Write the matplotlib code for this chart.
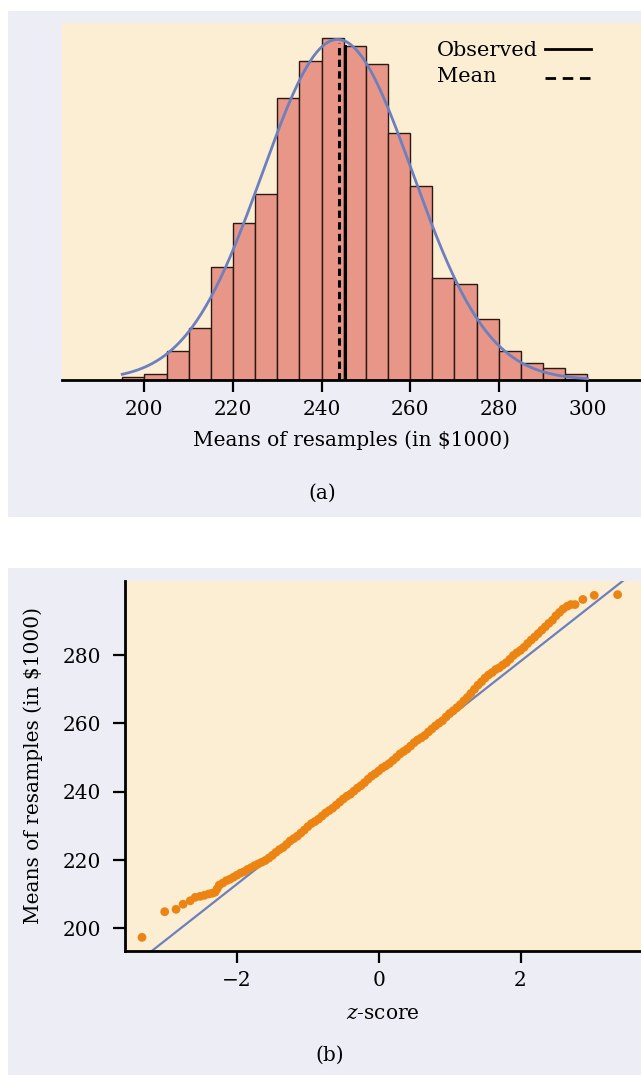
import numpy as np
import matplotlib
matplotlib.use("Agg")
import matplotlib.pyplot as plt
from matplotlib.patches import Rectangle

plt.rcParams['font.family'] = 'DejaVu Serif'
plt.rcParams['mathtext.fontset'] = 'dejavuserif'

# Histogram of resample means (bin left edges, width 5)
bin_left = [195, 200, 205, 210, 215, 220, 225, 230, 235, 240, 245,
            250, 255, 260, 265, 270, 275, 280, 285, 290, 295]
bin_counts = [1, 2, 10, 18, 39, 54, 64, 97, 110, 118, 115,
              109, 85, 67, 35, 33, 21, 10, 6, 4, 2]
bin_width = 5
n_resamples = 1000

# Normal curve fitted to the bootstrap distribution
curve_mean = 243.6
curve_sd = 17.0
observed_value = 245.2
boot_mean = 243.9

# Normal quantile plot: z-scores and sorted resample means
qq_z = [-3.34, -3.02, -2.86, -2.76, -2.66, -2.59, -2.52, -2.46, -2.40, -2.35, -2.31, -2.28,
        -2.25, -2.20, -2.15, -2.10, -2.05, -2.00, -1.95, -1.90, -1.85, -1.80,
        -1.75, -1.70, -1.65, -1.60, -1.55, -1.50, -1.45, -1.40, -1.35, -1.30,
        -1.25, -1.20, -1.15, -1.10, -1.05, -1.00, -0.95, -0.90, -0.85, -0.80,
        -0.75, -0.70, -0.65, -0.60, -0.55, -0.50, -0.45, -0.40, -0.35, -0.30,
        -0.25, -0.20, -0.15, -0.10, -0.05, 0.00, 0.05, 0.10, 0.15, 0.20,
        0.25, 0.30, 0.35, 0.40, 0.45, 0.50, 0.55, 0.60, 0.65, 0.70,
        0.75, 0.80, 0.85, 0.90, 0.95, 1.00, 1.05, 1.10, 1.15, 1.20,
        1.25, 1.30, 1.35, 1.40, 1.45, 1.50, 1.55, 1.60, 1.65, 1.70,
        1.75, 1.80, 1.85, 1.90, 1.95, 2.00, 2.05, 2.10, 2.15, 2.20,
        2.25, 2.30, 2.35, 2.40, 2.45, 2.50, 2.55, 2.60,
        2.66, 2.71, 2.77, 2.88, 3.04, 3.37]
qq_means = [197.4, 204.9, 205.6, 207.1, 208.1, 209.1, 209.4, 209.7, 210.1, 210.3, 210.6, 211.6,
            212.7, 213.3, 214.0, 214.4, 215.0, 215.6, 216.2, 216.6, 217.3, 217.8,
            218.4, 218.9, 219.4, 219.9, 220.6, 221.4, 222.3, 223.1, 223.7, 224.6,
            225.6, 226.3, 227.0, 227.9, 228.8, 229.8, 230.7, 231.3, 232.0, 232.9,
            233.8, 234.5, 235.2, 236.1, 237.0, 237.9, 238.7, 239.3, 240.2, 241.1,
            241.8, 242.7, 243.7, 244.6, 245.3, 246.1, 247.0, 247.6, 248.3, 249.2,
            250.1, 251.1, 251.8, 252.5, 253.4, 254.4, 255.2, 255.8, 256.5, 257.5,
            258.4, 259.3, 260.1, 260.8, 261.9, 262.9, 263.7, 264.6, 265.5, 266.6,
            267.6, 268.8, 270.0, 271.2, 272.2, 273.3, 274.2, 274.9, 275.8, 276.3,
            277.1, 277.8, 278.8, 279.9, 280.7, 281.4, 282.3, 283.4, 284.4, 285.3,
            286.3, 287.3, 288.3, 289.3, 290.2, 291.5, 292.5, 293.5,
            294.3, 294.8, 294.8, 296.3, 297.5, 297.7]
# reference line
line_intercept = 245.6
line_slope = 16.3

lavender = '#EDEDF6'
cream = '#FCEED2'
salmon = '#E89687'
curve_blue = '#6C80C0'
orange = '#EC8413'

W, H = 641, 1075
fig = plt.figure(figsize=(W / 100, H / 100), dpi=100)
fig.patches.append(Rectangle((8 / W, 1 - 517 / H), 633 / W, 506 / H, transform=fig.transFigure,
                             facecolor=lavender, edgecolor='none', zorder=-5))
fig.patches.append(Rectangle((8 / W, 0), 633 / W, 507 / H, transform=fig.transFigure,
                             facecolor=lavender, edgecolor='none', zorder=-5))

# ---- (a) histogram
ax1 = fig.add_axes([62 / W, 1 - 380 / H, 579 / W, 357 / H])
ax1.set_facecolor(cream)
ax1.bar(bin_left, bin_counts, width=bin_width, align='edge', color=salmon,
        edgecolor='#2a1a16', linewidth=1.0, zorder=2)
xs = np.linspace(195, 300, 300)
dens = np.exp(-0.5 * ((xs - curve_mean) / curve_sd) ** 2) / (curve_sd * np.sqrt(2 * np.pi))
ax1.plot(xs, dens * n_resamples * bin_width, color=curve_blue, lw=2.0, zorder=4)
ax1.plot([boot_mean, boot_mean], [0, 116], color='black', lw=2.2, ls=(0, (2.4, 1.4)), zorder=3)
ax1.plot([observed_value, observed_value], [0, 115], color='black', lw=2.2, zorder=3)
ax1.set_xlim(181.4, 312.1)
ax1.set_ylim(0, 123)
ax1.set_yticks([])
for s in ['left', 'right', 'top']:
    ax1.spines[s].set_visible(False)
ax1.spines['bottom'].set_linewidth(2.0)
ax1.set_xticks([200, 220, 240, 260, 280, 300])
ax1.tick_params(axis='x', length=8.5, width=1.6, pad=6, labelsize=14.5)
ax1.set_xlabel('Means of resamples (in $1000)', fontsize=14.5, labelpad=8)

# legend drawn by hand: label first, line after
ax1.text(0.648, 0.924, 'Observed', transform=ax1.transAxes, fontsize=15, va='center', ha='left')
ax1.text(0.648, 0.849, 'Mean', transform=ax1.transAxes, fontsize=15, va='center', ha='left')
ax1.plot([0.834, 0.914], [0.927, 0.927], transform=ax1.transAxes, color='black', lw=2.0)
ax1.plot([0.834, 0.914], [0.846, 0.846], transform=ax1.transAxes, color='black', lw=2.0,
         ls=(0, (3.8, 2.4)))

fig.text(322 / W, 1 - 493 / H, '(a)', fontsize=14.5, ha='center', va='center')

# ---- (b) normal quantile plot
ax2 = fig.add_axes([125 / W, 1 - 951 / H, 516 / W, 370 / H])
ax2.set_facecolor(cream)
zl = np.array([-3.6, 3.7])
ax2.plot(zl, line_intercept + line_slope * zl, color=curve_blue, lw=1.6, zorder=2)
ax2.scatter(qq_z, qq_means, s=40, color=orange, edgecolors='none', zorder=3)
ax2.set_xlim(-3.58, 3.70)
ax2.set_ylim(193.4, 301.7)
for s in ['right', 'top']:
    ax2.spines[s].set_visible(False)
for s in ['left', 'bottom']:
    ax2.spines[s].set_linewidth(2.0)
ax2.set_xticks([-2, 0, 2])
ax2.set_xticklabels(['\u22122', '0', '2'])
ax2.set_yticks([200, 220, 240, 260, 280])
ax2.tick_params(axis='both', length=8.5, width=1.6, labelsize=14.5)
ax2.tick_params(axis='x', pad=6)
ax2.tick_params(axis='y', pad=9)
ax2.set_xlabel(r'$\it{z}$-score', fontsize=14.5, labelpad=10)
ax2.set_ylabel('Means of resamples (in $1000)', fontsize=14.5, labelpad=14)

fig.text(330 / W, 1 - 1055 / H, '(b)', fontsize=14.5, ha='center', va='center')

fig.savefig('out.png', dpi=100, facecolor='white')
